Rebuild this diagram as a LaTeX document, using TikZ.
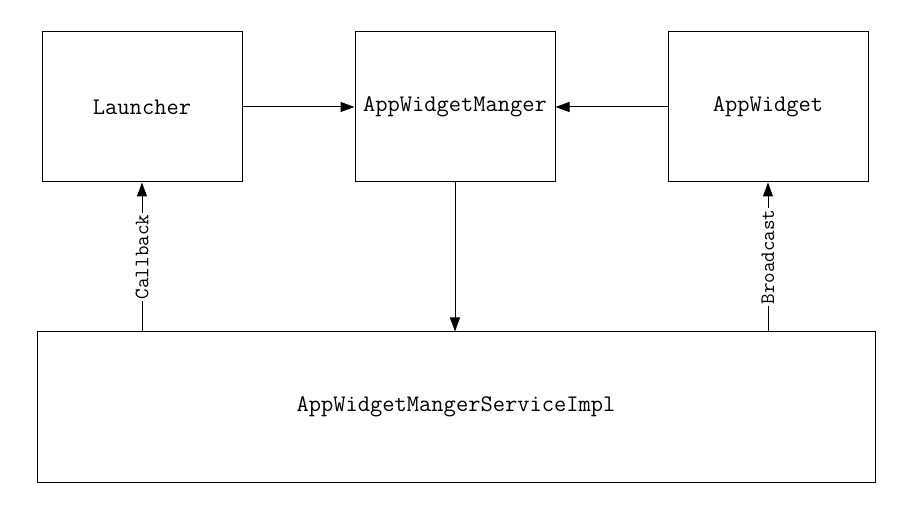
\documentclass[tikz,border=0pt]{standalone}
\usepackage{fontspec}
\usetikzlibrary{arrows.meta}
\begin{document}
\begin{tikzpicture}[x=1pt,y=-1pt,
  box/.style={draw=black, line width=1pt, inner sep=0pt, font=\ttfamily\fontsize{23.8}{26}\selectfont},
  conn/.style={line width=1pt, -{Triangle[length=14pt,width=10pt]}},
  lbl/.style={fill=white, rotate=90, inner sep=1.5pt, font=\ttfamily\fontsize{20.5}{22}\selectfont}]
\useasboundingbox (0,0) rectangle (914,505);
\node[box, minimum width=200pt, minimum height=150pt] (launcher) at (142,107) {Launcher};
\node[box, minimum width=200pt, minimum height=150pt] (mgr) at (455,107) {AppWidgetManger};
\node[box, minimum width=200pt, minimum height=150pt] (widget) at (768,107) {AppWidget};
\node[box, minimum width=838pt, minimum height=150pt] (svc) at (456,407) {AppWidgetMangerServiceImpl};
\coordinate (cb) at (launcher.south |- svc.north);
\coordinate (bc) at (widget.south |- svc.north);
\draw[conn] (launcher.east) -- (mgr.west);
\draw[conn] (widget.west) -- (mgr.east);
\draw[conn] (mgr.south) -- (mgr.south |- svc.north);
\draw[conn] (cb) -- node[lbl] {Callback} (launcher.south);
\draw[conn] (bc) -- node[lbl] {Broadcast} (widget.south);
\end{tikzpicture}
\end{document}
